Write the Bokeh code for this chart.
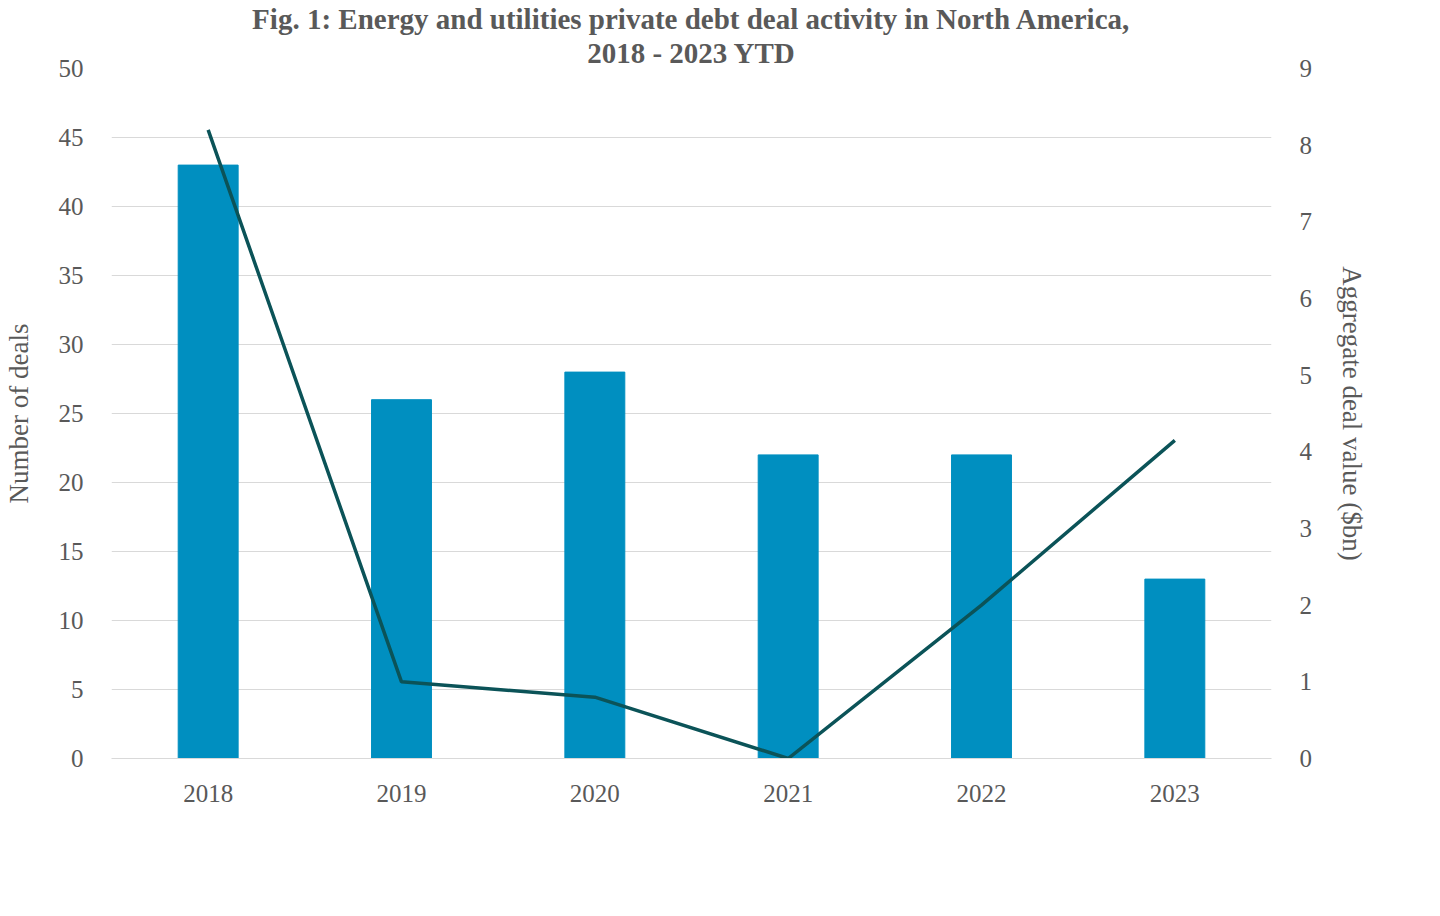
from bokeh.plotting import figure
from bokeh.models import Range1d, LinearAxis, Legend, LegendItem, Title, FactorRange
from bokeh.embed import file_html
from bokeh.resources import INLINE

years = ["2018", "2019", "2020", "2021", "2022", "2023"]
deals = [43, 26, 28, 22, 22, 13]
value_bn = [8.2, 1.0, 0.8, 0.0, 2.0, 4.15]

FONT = "Liberation Serif"
GREY = "#595959"

p = figure(frame_width=1160, frame_height=690, x_range=FactorRange(*years), y_range=Range1d(0, 50),
           output_backend="svg", toolbar_location=None, min_border_left=10, min_border_right=10,
           min_border_top=5, min_border_bottom=5)
p.extra_y_ranges = {"val": Range1d(0, 9)}

bars = p.vbar(x=years, top=deals, width=0.31, color="#008FC0")
line = p.line(x=years, y=value_bn, y_range_name="val", line_color="#0B5358", line_width=3.5)

ax_r = LinearAxis(y_range_name="val", axis_label="Aggregate deal value ($bn)")
p.add_layout(ax_r, "right")

for ax in [p.yaxis[0], ax_r]:
    ax.axis_line_color = None
    ax.major_tick_line_color = None
    ax.minor_tick_line_color = None
    ax.major_label_text_font = FONT
    ax.major_label_text_font_size = "25px"
    ax.major_label_text_color = GREY
    ax.major_label_standoff = 22
    ax.axis_label_text_font = FONT
    ax.axis_label_text_font_size = "27px"
    ax.axis_label_text_font_style = "normal"
    ax.axis_label_text_color = GREY
    ax.axis_label_standoff = 22
p.yaxis[0].axis_label = "Number of deals"
p.yaxis[0].ticker = list(range(0, 51, 5))
ax_r.ticker = list(range(0, 10))

xa = p.xaxis[0]
xa.axis_line_color = "#D9D9D9"
xa.major_tick_line_color = None
xa.major_label_text_font = FONT
xa.major_label_text_font_size = "25px"
xa.major_label_text_color = GREY
xa.major_label_standoff = 20

p.xgrid.grid_line_color = None
p.ygrid.grid_line_color = "#D9D9D9"
p.outline_line_color = None

for t in ["2018 - 2023 YTD", "Fig. 1: Energy and utilities private debt deal activity in North America,"]:
    p.add_layout(Title(text=t, align="center", text_font=FONT, text_font_size="29px",
                       text_font_style="bold", text_color=GREY, standoff=0, offset=0), "above")

legend = Legend(items=[LegendItem(label="Number of deals", renderers=[bars]),
                       LegendItem(label="Aggregate deal value ($bn)", renderers=[line])],
                orientation="horizontal", location="center", border_line_color=None,
                label_text_font=FONT, label_text_font_size="25px", label_text_color=GREY,
                glyph_width=36, spacing=40, padding=2, margin=8)
p.add_layout(legend, "below")

open("out.html", "w").write(file_html(p, INLINE))
